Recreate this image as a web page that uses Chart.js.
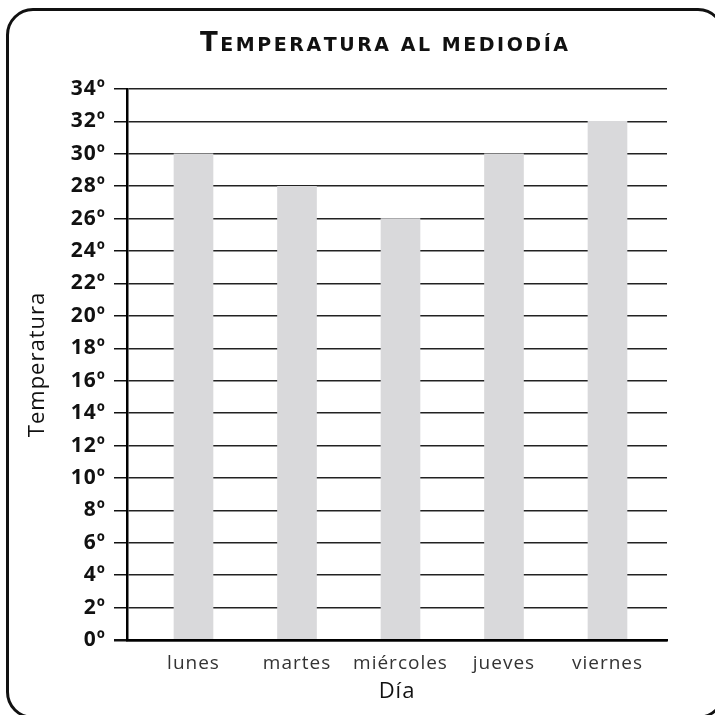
<!DOCTYPE html>
<html>
<head>
<meta charset="utf-8">
<script src="https://cdn.jsdelivr.net/npm/chart.js@4.4.1/dist/chart.umd.min.js"></script>
<style>
  html, body { margin: 0; padding: 0; background: #fff; overflow: hidden; }
  #frame { position: absolute; left: 6px; top: 8px; width: 719px; height: 711px; box-sizing: border-box;
           border: 3px solid #111; border-radius: 27px; }
  #wrap { position: absolute; left: 0; top: 0; width: 715px; height: 715px; }
</style>
</head>
<body>
<div id="frame"></div>
<div id="wrap"><canvas id="c" width="715" height="715"></canvas></div>
<script>
const chartTitle = 'Temperatura al mediodía';
const categories = ['lunes', 'martes', 'miércoles', 'jueves', 'viernes'];
const temperatures = [30, 28, 26, 30, 32];
const yTicks = [0, 2, 4, 6, 8, 10, 12, 14, 16, 18, 20, 22, 24, 26, 28, 30, 32, 34];
const xAxisTitle = 'Día';
const yAxisTitle = 'Temperatura';

const spacingPlugin = {
  id: 'spacing',
  beforeDraw(chart) { chart.ctx.letterSpacing = '1px'; }
};

// Small-caps title: capitals at full size, lowercase as smaller capitals
const titlePlugin = {
  id: 'smallCapsTitle',
  afterDraw(chart) {
    const ctx = chart.ctx;
    ctx.save();
    const big = 'bold 26px "DejaVu Sans"', small = 'bold 19px "DejaVu Sans"';
    const chars = Array.from(chartTitle).map(ch => {
      const isUpper = ch !== ch.toLowerCase();
      return { t: ch.toUpperCase(), f: isUpper ? big : small };
    });
    ctx.letterSpacing = '0px';
    let natural = 0;
    chars.forEach(c => { ctx.font = c.f; c.w = ctx.measureText(c.t).width; natural += c.w; });
    const targetWidth = 368;
    const sp = (targetWidth - natural) / (chars.length - 1);
    let x = 384 - targetWidth / 2;
    ctx.fillStyle = '#111';
    ctx.textAlign = 'left';
    ctx.textBaseline = 'alphabetic';
    chars.forEach(c => { ctx.font = c.f; ctx.fillText(c.t, x, 51); x += c.w + sp; });
    ctx.restore();
  }
};

new Chart(document.getElementById('c'), {
  type: 'bar',
  data: {
    datasets: [{
      data: temperatures.map((v, i) => ({ x: i, y: v })),
      backgroundColor: '#d9d9db',
      borderWidth: 0,
      barThickness: 39
    }]
  },
  options: {
    responsive: false,
    animation: false,
    devicePixelRatio: 1,
    layout: { padding: { left: 20, right: 48, top: 89, bottom: 0 } },
    plugins: { legend: { display: false }, tooltip: { enabled: false }, title: { display: false } },
    scales: {
      x: {
        type: 'linear',
        offset: false,
        min: -0.6425,
        max: 4.575,
        afterBuildTicks: (s) => { s.ticks = categories.map((_, i) => ({ value: i })); },
        afterFit: (s) => { s.height = 75; },
        grid: { display: false, drawTicks: false },
        border: { display: true, color: '#000', width: 2.5 },
        ticks: {
          callback: (v) => categories[v],
          color: '#333',
          font: { family: '"Open Sans"', size: 19 },
          padding: 12,
          autoSkip: false,
          maxRotation: 0
        },
        title: {
          display: true,
          text: xAxisTitle,
          color: '#111',
          font: { family: '"Open Sans"', size: 22 },
          padding: { top: 0, bottom: 10 }
        }
      },
      y: {
        min: 0,
        max: 34,
        afterBuildTicks: (s) => { s.ticks = yTicks.map(v => ({ value: v })); },
        afterFit: (s) => { s.width = 107; },
        grid: {
          color: '#222',
          lineWidth: (c) => c.tick && c.tick.value === 0 ? 2.5 : 1.5,
          drawTicks: true,
          tickLength: 13,
          tickColor: '#111',
          tickWidth: (c) => c.tick && c.tick.value === 0 ? 2.5 : 1.5
        },
        border: { display: true, color: '#000', width: 2.5 },
        ticks: {
          callback: (v) => v + 'º',
          color: '#111',
          font: { family: '"Open Sans"', size: 21, weight: 'bold' },
          padding: 8
        },
        title: {
          display: true,
          text: yAxisTitle,
          color: '#111',
          font: { family: '"Open Sans"', size: 22 },
          padding: { top: 5, bottom: 4 }
        }
      }
    }
  },
  plugins: [spacingPlugin, titlePlugin]
});
</script>
</body>
</html>
